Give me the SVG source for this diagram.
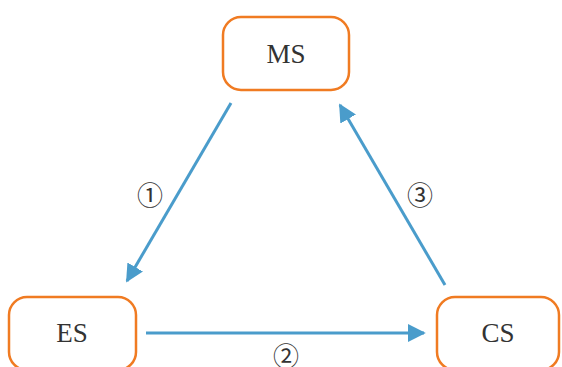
<svg xmlns="http://www.w3.org/2000/svg" width="562" height="367" viewBox="0 0 562 367">
<style>
.box{fill:#fff;stroke:#F07B22;stroke-width:2.5}
.t{font-family:"Liberation Serif","DejaVu Serif",serif;font-size:27px;fill:#333;text-anchor:middle;dominant-baseline:central}
.l{font-family:"Noto Sans CJK SC","DejaVu Sans",sans-serif;font-size:26px;fill:#333;text-anchor:middle;dominant-baseline:central}
.c{stroke:#4A9CCB;stroke-width:3;fill:none;marker-end:url(#ah)}
</style>
<defs>
<marker id="ah" viewBox="0 0 10 10" refX="9" refY="5" markerWidth="6" markerHeight="6" markerUnits="strokeWidth" orient="auto">
<path d="M0,0 L10,5 L0,10 Z" fill="#4A9CCB"/>
</marker>
</defs>
<g id="connectors">
<line class="c" x1="231" y1="103" x2="127" y2="281"/>
<line class="c" x1="146" y1="333" x2="424" y2="333"/>
<line class="c" x1="445" y1="285" x2="340" y2="105"/>
<text class="l" x="150" y="193">①</text>
<text class="l" x="286" y="354">②</text>
<text class="l" x="420" y="193">③</text>
</g>
<g id="MS"><rect class="box" x="223" y="17" width="126" height="73" rx="18"/><text class="t" x="286" y="54">MS</text></g>
<g id="ES"><rect class="box" x="9" y="297" width="127" height="73" rx="18"/><text class="t" x="72" y="333">ES</text></g>
<g id="CS"><rect class="box" x="437" y="297" width="122" height="73" rx="18"/><text class="t" x="498" y="333">CS</text></g>
</svg>
